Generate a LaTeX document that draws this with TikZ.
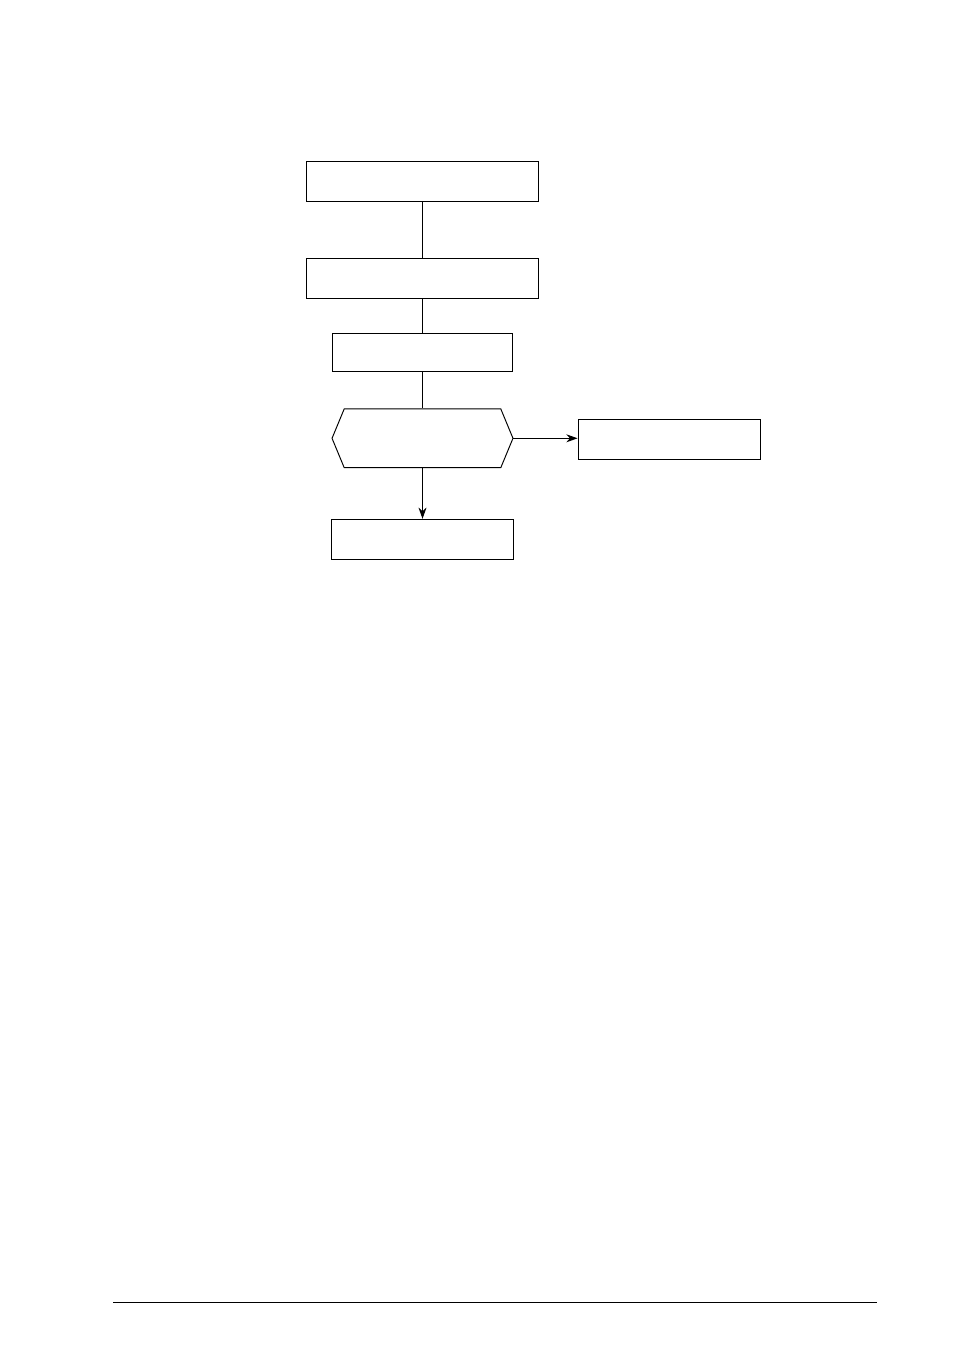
\documentclass[tikz,border=0pt]{standalone}
\usepackage{tikz}
\usepackage{xcolor}
\usetikzlibrary{arrows.meta,shapes.symbols}

\begin{document}
\begin{tikzpicture}[x=0.624pt,y=-0.624pt,line width=0.6pt,
  box/.style={draw,rectangle,minimum width=#1,minimum height=25pt,inner sep=0pt},
  box/.default=144.8pt,
  check/.style={draw,signal,signal to=west and east,signal pointer angle=135,
    minimum width=112.9pt,minimum height=36.6pt,inner sep=0pt},
  link/.style={-},
  flow/.style={-{Stealth[length=7pt,width=5pt]}}]
\useasboundingbox (0,0) rectangle (954,1351);
\node[box] (start) at (422.5,181.3) {};
\node[box] (prepare) at (422.5,278.3) {};
\node[box=112.9pt,minimum height=23.7pt] (process) at (422.5,352.3) {};
\node[check] (decide) at (422.5,438.3) {};
\node[box=113.8pt] (other) at (669.2,439.3) {};
\node[box=113.6pt] (finish) at (422.8,539.3) {};
\draw[link] (start) -- (prepare);
\draw[link] (prepare) -- (process);
\draw[link] (process) -- (decide);
\draw[flow] (decide.east) -- (decide.east -| other.west);
\draw[flow] (decide.south) -- (decide.south |- finish.north);
% footer rule
\draw[line width=0.7pt] (113,1302.3) -- (877,1302.3);
\end{tikzpicture}
\end{document}
